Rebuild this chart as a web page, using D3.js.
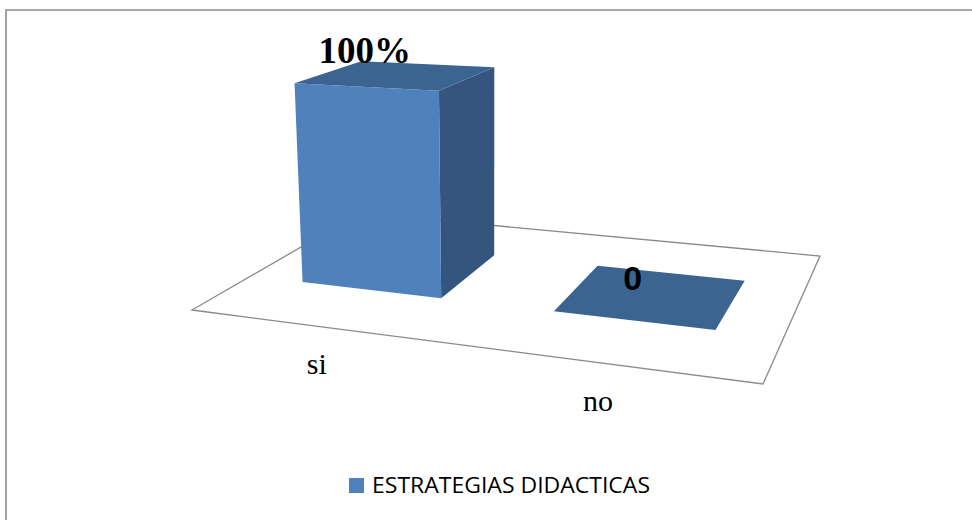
<!DOCTYPE html>
<html>
<head>
<meta charset="utf-8">
<script src="https://cdn.jsdelivr.net/npm/d3@7"></script>
<style>
  html, body { margin: 0; padding: 0; background: #fff; }
  svg { display: block; }
  .lbl-serif { font-family: "Liberation Serif", "Times New Roman", serif; font-weight: bold; }
  .lbl-sans { font-family: "Liberation Sans", Arial, sans-serif; font-weight: bold; }
  .cat { font-family: "Liberation Serif", "Times New Roman", serif; }
  .leg { font-family: "Open Sans", "Noto Sans", sans-serif; }
</style>
</head>
<body>
<svg id="chart" width="972" height="520"></svg>
<script>
// ---- data ----
const categories = ["si", "no"];
const values = [100, 0];
const valueLabels = ["100%", "0"];
const seriesName = "ESTRATEGIAS DIDACTICAS";

// ---- layout ----
const W = 972, H = 520;
const svg = d3.select("#chart");

// floor corners on screen: front-left, front-right, back-right, back-left
const floorQuad = [[192, 310], [763, 384], [820, 256], [360, 213]];
const vp = [491, 4957]; // vertical vanishing point (below)

// homography unit square -> quad
function squareToQuad(q) {
  const [x0, y0] = q[0], [x1, y1] = q[1], [x2, y2] = q[2], [x3, y3] = q[3];
  const dx1 = x1 - x2, dx2 = x3 - x2, dx3 = x0 - x1 + x2 - x3;
  const dy1 = y1 - y2, dy2 = y3 - y2, dy3 = y0 - y1 + y2 - y3;
  const den = dx1 * dy2 - dx2 * dy1;
  const g = (dx3 * dy2 - dx2 * dy3) / den;
  const h = (dx1 * dy3 - dx3 * dy1) / den;
  return {
    a: x1 - x0 + g * x1, b: x3 - x0 + h * x3, c: x0,
    d: y1 - y0 + g * y1, e: y3 - y0 + h * y3, f: y0, g, h
  };
}
const Hm = squareToQuad(floorQuad);

// scales
const u = d3.scaleBand().domain(categories).range([0, 1]).paddingInner(0.43).paddingOuter(0.225);
const depth = d3.scaleLinear().domain([0, 1]).range([0.30, 0.705]);
const yScale = d3.scaleLinear().domain([0, 100]).range([0, 211]);

function project(uu, ww, v) {
  const s = Hm.g * uu + Hm.h * ww + 1;
  const x = (Hm.a * uu + Hm.b * ww + Hm.c) / s;
  const y = (Hm.d * uu + Hm.e * ww + Hm.f) / s;
  const len = yScale(v) / s;
  const vx = vp[0] - x, vy = vp[1] - y, n = Math.hypot(vx, vy);
  return [x - vx / n * len, y - vy / n * len];
}

// border
svg.append("path")
  .attr("d", `M6,${H} V10 H${W}`)
  .attr("fill", "none").attr("stroke", "#8c8c8c").attr("stroke-width", 1.6);

// floor
svg.append("polygon")
  .attr("points", [[0,0],[1,0],[1,1],[0,1]].map(p => project(p[0], p[1], 0).join(",")).join(" "))
  .attr("fill", "#fff").attr("stroke", "#8a8a8a").attr("stroke-width", 1.3);

const colFront = "#4f81bd", colTop = "#3c6491", colSide = "#33557e";
const wF = depth(0), wB = depth(1);

const data = categories.map((c, i) => ({ c, v: values[i], label: valueLabels[i] }));
const bars = svg.append("g").selectAll("g").data(data).join("g");

bars.each(function(d) {
  const g = d3.select(this);
  const u0 = u(d.c), u1 = u(d.c) + u.bandwidth();
  const pts = pp => pp.map(p => project(p[0], p[1], p[2]).join(",")).join(" ");
  if (d.v > 0) {
    g.append("polygon").attr("points", pts([[u1, wF, 0], [u1, wB, 0], [u1, wB, d.v], [u1, wF, d.v]]))
      .attr("fill", colSide);
    g.append("polygon").attr("points", pts([[u0, wF, 0], [u1, wF, 0], [u1, wF, d.v], [u0, wF, d.v]]))
      .attr("fill", colFront);
  }
  g.append("polygon").attr("points", pts([[u0, wF, d.v], [u1, wF, d.v], [u1, wB, d.v], [u0, wB, d.v]]))
    .attr("fill", colTop);

  const a = project(u0, wF, d.v), b = project(u1, wF, d.v);
  const mx = (a[0] + b[0]) / 2, my = (a[1] + b[1]) / 2;
  g.append("text")
    .attr("class", d.v > 0 ? "lbl-serif" : "lbl-sans")
    .attr("x", mx - 2).attr("y", my - (d.v > 0 ? 24 : 31))
    .attr("text-anchor", "middle")
    .attr("font-size", d.v > 0 ? 37 : 34)
    .attr("fill", "#000")
    .text(d.label);
});

// category labels
svg.append("g").selectAll("text").data(categories).join("text")
  .attr("class", "cat")
  .attr("x", c => project(u(c) + u.bandwidth() / 2, 0, 0)[0] - 2)
  .attr("y", c => project(u(c) + u.bandwidth() / 2, 0, 0)[1] + 48)
  .attr("text-anchor", "middle")
  .attr("font-size", 30)
  .attr("fill", "#000")
  .text(c => c);

// legend
const lg = svg.append("g");
lg.append("rect").attr("x", 349).attr("y", 478).attr("width", 15).attr("height", 15).attr("fill", colFront);
lg.append("text").attr("class", "leg").attr("x", 372).attr("y", 493)
  .attr("font-size", 21)
  .attr("textLength", 278).attr("lengthAdjust", "spacingAndGlyphs")
  .attr("fill", "#000")
  .text(seriesName);
</script>
</body>
</html>
